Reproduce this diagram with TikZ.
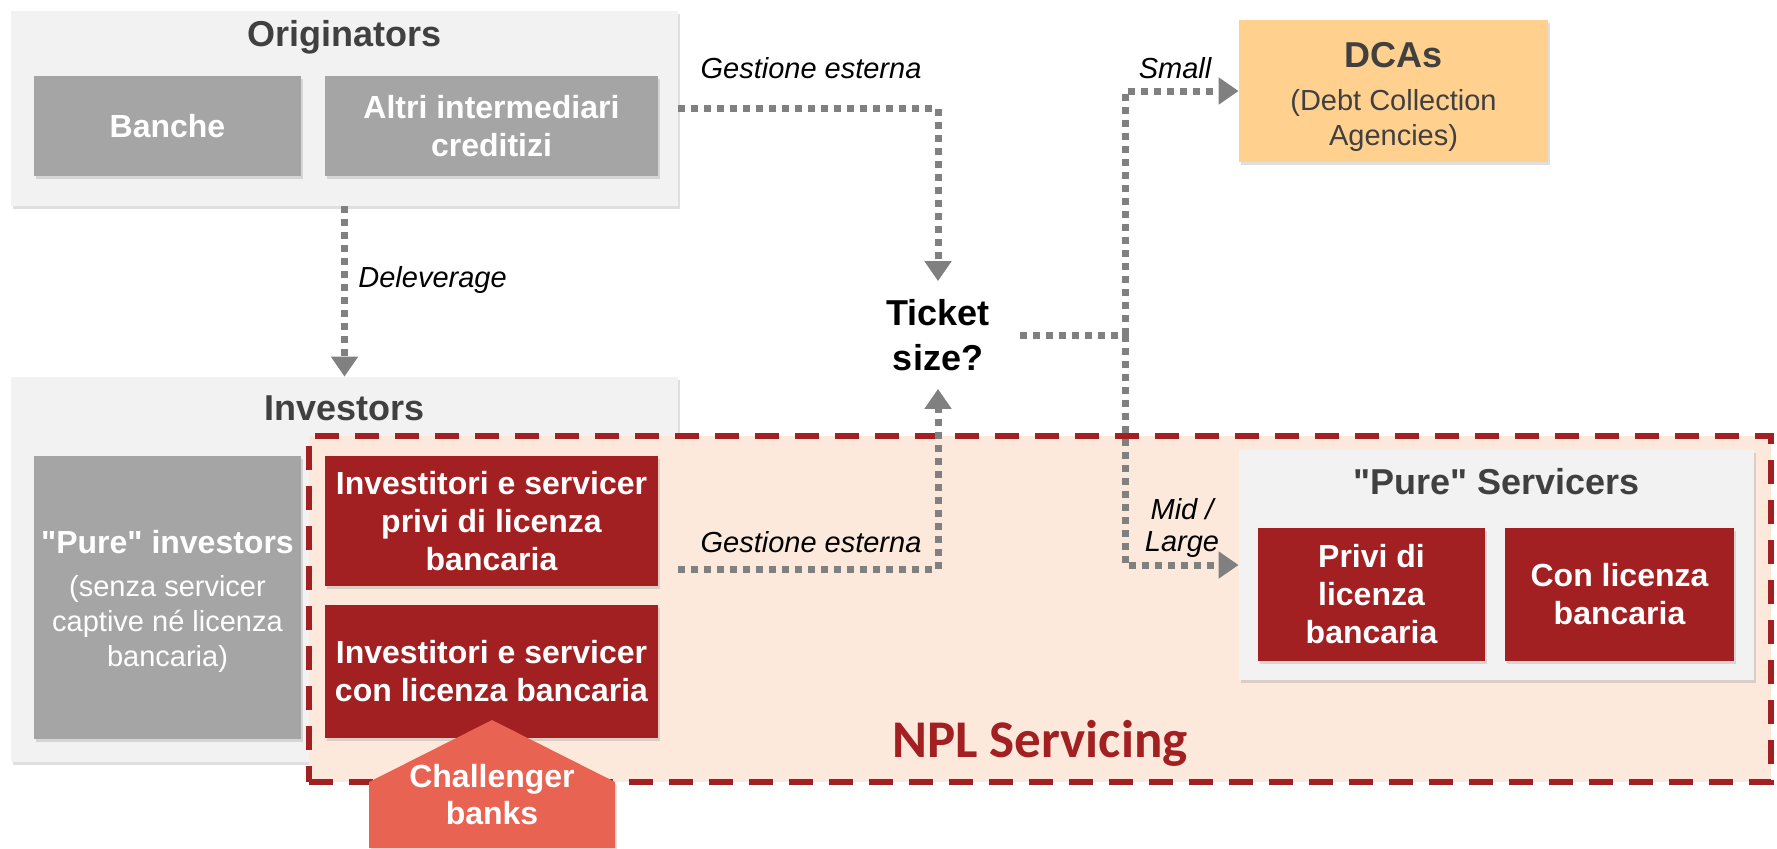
\documentclass[tikz,border=0pt]{standalone}
\usepackage{fontspec}
\setmainfont{Liberation Sans}[Ligatures=TeXOff]
\newfontfamily\calibrifont{Carlito}
\usepackage{tikz}
\usetikzlibrary{positioning, arrows.meta, shadows}

\definecolor{boxgrey}{HTML}{F2F2F2}
\definecolor{midgrey}{HTML}{A5A5A5}
\definecolor{nplred}{HTML}{A21F22}
\definecolor{peach}{HTML}{FCE9DB}
\definecolor{salmon}{HTML}{E86352}
\definecolor{dcaorange}{HTML}{FFD08E}
\definecolor{arrowgrey}{HTML}{808080}
\definecolor{titlegrey}{HTML}{404040}

\tikzset{
  softshadow/.style={drop shadow={opacity=0.25, shadow xshift=1pt, shadow yshift=-1.5pt}},
  panel/.style={fill=boxgrey, inner sep=0pt, softshadow},
  greybox/.style={fill=midgrey, text=white, inner sep=0pt, align=center, softshadow,
    font=\fontsize{16pt}{19pt}\selectfont\bfseries},
  redbox/.style={fill=nplred, text=white, inner sep=0pt, align=center, softshadow,
    font=\fontsize{16pt}{19pt}\selectfont\bfseries},
  heading/.style={text=titlegrey, inner sep=0pt, font=\fontsize{18pt}{22pt}\selectfont\bfseries},
  flowlabel/.style={inner sep=0pt, align=center, font=\fontsize{14.5pt}{16pt}\selectfont\itshape},
  dotline/.style={arrowgrey, line width=3.5pt, dash pattern=on 3.5pt off 3pt},
  flowtip/.style={-{Triangle[length=10pt,width=13pt]}},
  nplframe/.style={fill=peach, draw=nplred, line width=3pt, dash pattern=on 12pt off 8pt, inner sep=0pt}
}

\begin{document}
\begin{tikzpicture}[x=0.5pt, y=-0.5pt]
\useasboundingbox (0,0) rectangle (1777,848);
\fill[white] (0,0) rectangle (1777,848);

% originators
\node[panel, minimum width=333.5pt, minimum height=97.5pt] (orig) at (344.5,108.5) {};
\node[heading] (origtitle) at (344.5,37) {Originators};
\node[greybox, minimum width=133.5pt, minimum height=50pt] (banche) at (167.5,126) {Banche};
\node[greybox, minimum width=166.5pt, minimum height=50pt] (altri) at (491.5,126) {Altri intermediari\\creditizi};

% investors
\node[panel, minimum width=333.5pt, minimum height=192.5pt] (invest) at (344.5,569.5) {};
\node[heading] (investtitle) at (344.5,408) {Investors};
\node[greybox, minimum width=133.5pt, minimum height=141.5pt] (pureinvbox) at (167.5,597.5) {};
\node[text=white, inner sep=0pt, align=center, font=\fontsize{14.5pt}{17.5pt}\selectfont] (pureinv) at (167.5,601)
  {{\fontsize{16pt}{19pt}\selectfont\bfseries "Pure" investors}\\[4pt](senza servicer\\captive né licenza\\bancaria)};

% NPL servicing area
\node[nplframe, minimum width=731pt, minimum height=173pt] (npl) at (1040,609) {};
\node[redbox, minimum width=166.5pt, minimum height=65pt] (invpriv) at (491.5,521) {Investitori e servicer\\privi di licenza\\bancaria};
\node[redbox, minimum width=166.5pt, minimum height=66.5pt] (invcon) at (491.5,671.5) {Investitori e servicer\\con licenza bancaria};
\node[text=nplred, inner sep=0pt, font=\calibrifont\fontsize{26.5pt}{30pt}\selectfont\bfseries] (npltitle) at (1040,743) {NPL Servicing};

% challenger banks
\fill[salmon, softshadow] (369,848) -- (369,782) -- (492,720) -- (615,782) -- (615,848) -- cycle;
\node[text=white, inner sep=0pt, align=center, font=\fontsize{16pt}{18.5pt}\selectfont\bfseries] (chall) at (492,794.5) {Challenger\\banks};

% pure servicers
\node[panel, minimum width=257.5pt, minimum height=115pt] (pserv) at (1496.5,565) {};
\node[heading] (pservtitle) at (1496.5,482) {"Pure" Servicers};
\node[redbox, minimum width=113.5pt, minimum height=66.5pt] (privi) at (1371.5,594.5) {Privi di\\licenza\\bancaria};
\node[redbox, minimum width=114.5pt, minimum height=66.5pt] (conlic) at (1619.5,594.5) {Con licenza\\bancaria};

% DCAs
\node[fill=dcaorange, softshadow, minimum width=154.5pt, minimum height=71pt] (dca) at (1393.5,91) {};
\node[inner sep=0pt, align=center, text=titlegrey, font=\fontsize{14.5pt}{17.5pt}\selectfont] (dcatext) at (1393.5,97)
  {{\fontsize{18pt}{22pt}\selectfont\bfseries DCAs}\\[4pt](Debt Collection\\Agencies)};

% ticket size
\node[inner sep=0pt, align=center, font=\fontsize{18pt}{22.5pt}\selectfont\bfseries,
  minimum width=82pt, minimum height=53.5pt] (ticket) at (938,335) {Ticket\\size?};
\coordinate (split) at (1125,335);

% flows
\draw[dotline, flowtip] (orig.east) -| (ticket.north);
\draw[dotline, flowtip] (orig.south) -- (invest.north);
\draw[dotline, flowtip] (invest.east) -| (ticket.south);
\draw[dotline] (ticket.east) -- (split);
\draw[dotline, flowtip] (split) |- (dca.west);
\draw[dotline, flowtip] (split) |- (pserv.west);

% labels
\node[flowlabel] (lblext1) at (811,68) {Gestione esterna};
\node[flowlabel, anchor=west] (lbldelev) at (358,280) {Deleverage};
\node[flowlabel] (lblext2) at (811,542) {Gestione esterna};
\node[flowlabel] (lblsmall) at (1175,68) {Small};
\node[flowlabel] (lblmid) at (1182,528) {Mid /\\Large};
\end{tikzpicture}
\end{document}
